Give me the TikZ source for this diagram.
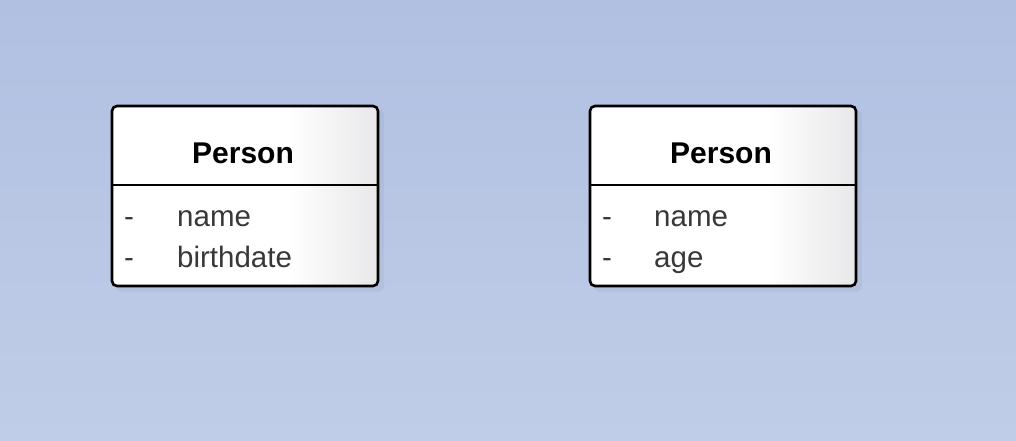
\documentclass[tikz,border=0pt]{standalone}
\usepackage{fontspec}
\setmainfont{Liberation Sans}
\definecolor{bgtop}{RGB}{177,192,225}
\definecolor{bgbot}{RGB}{192,205,232}
\definecolor{boxgray}{RGB}{232,232,234}
\pgfdeclarehorizontalshading{boxshade}{100bp}{color(0bp)=(white); color(25bp)=(white); color(58bp)=(white); color(75bp)=(boxgray); color(100bp)=(boxgray)}
\begin{document}
\begin{tikzpicture}[x=1pt,y=-1pt,
  classbox/.style={draw=black, line width=2.6pt, rounded corners=5pt, shading=boxshade, minimum width=266pt, minimum height=180pt, inner sep=0pt},
  divider/.style={draw=black, line width=2.6pt},
  title/.style={font=\fontsize{30}{34}\selectfont\bfseries, inner sep=0pt, anchor=base},
  attr/.style={font=\fontsize{29.5}{34}\selectfont, text=black!78, inner sep=0pt, anchor=base west},
  vis/.style={font=\fontsize{29.5}{34}\selectfont, text=black!78, inner sep=0pt, anchor=base west}]
\shade[top color=bgtop, bottom color=bgbot] (0,0) rectangle (1016,440);
\useasboundingbox (0,0) rectangle (1016,440);
% shadows
\fill[black, opacity=0.04, rounded corners=6pt] (116,110) rectangle (384,292);
\fill[black, opacity=0.04, rounded corners=6pt] (594,110) rectangle (862,292);
% box 1
\node[classbox] (b1) at (245,196) {};
\coordinate (d1l) at (112,185);
\coordinate (d1r) at (378,185);
\draw[divider] (d1l) -- (d1r);
\node[title] (t1) at (243,163) {Person};
\node[vis] (v1a) at (124,226) {-};
\node[attr] (a1a) at (177,226) {name};
\node[vis] (v1b) at (124,267) {-};
\node[attr] (a1b) at (177,267) {birthdate};
% box 2
\node[classbox] (b2) at (723,196) {};
\coordinate (d2l) at (590,185);
\coordinate (d2r) at (856,185);
\draw[divider] (d2l) -- (d2r);
\node[title] (t2) at (721,163) {Person};
\node[vis] (v2a) at (602,226) {-};
\node[attr] (a2a) at (654,226) {name};
\node[vis] (v2b) at (602,267) {-};
\node[attr] (a2b) at (654,267) {age};
\end{tikzpicture}
\end{document}
